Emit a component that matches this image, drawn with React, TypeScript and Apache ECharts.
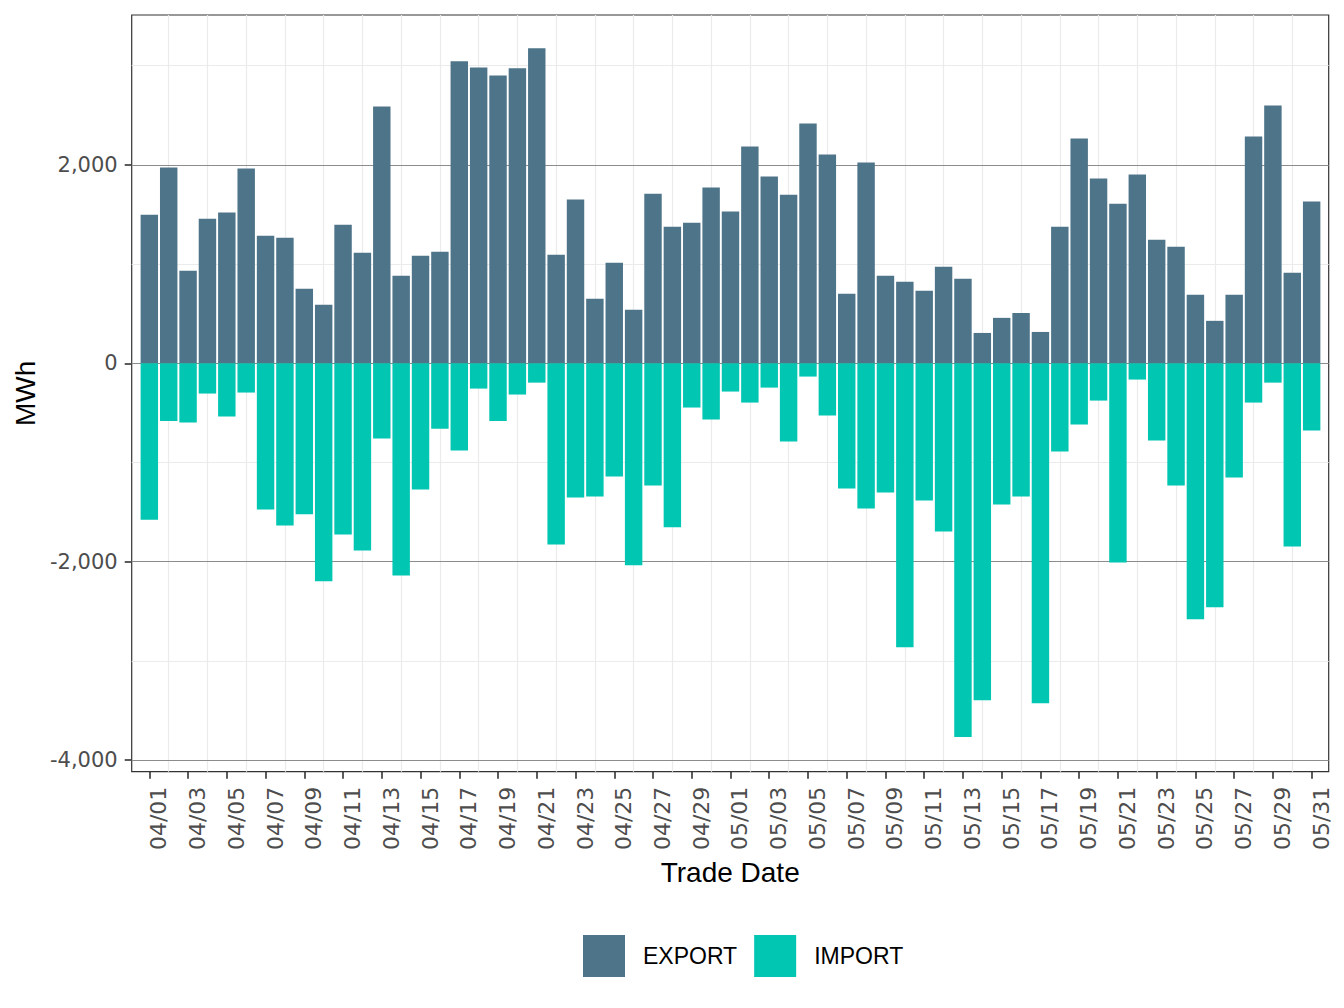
import React, { useEffect, useRef } from "react";
import * as echarts from "echarts";

const dates = [
  "04/01", "04/02", "04/03", "04/04", "04/05", "04/06", "04/07", "04/08", "04/09", "04/10",
  "04/11", "04/12", "04/13", "04/14", "04/15", "04/16", "04/17", "04/18", "04/19", "04/20",
  "04/21", "04/22", "04/23", "04/24", "04/25", "04/26", "04/27", "04/28", "04/29", "04/30",
  "05/01", "05/02", "05/03", "05/04", "05/05", "05/06", "05/07", "05/08", "05/09", "05/10",
  "05/11", "05/12", "05/13", "05/14", "05/15", "05/16", "05/17", "05/18", "05/19", "05/20",
  "05/21", "05/22", "05/23", "05/24", "05/25", "05/26", "05/27", "05/28", "05/29", "05/30",
  "05/31",
];

const exportValues = [
  1498, 1973, 933, 1458, 1519, 1963, 1286, 1266, 751, 589,
  1397, 1114, 2589, 882, 1084, 1125, 3044, 2983, 2902, 2973,
  3175, 1094, 1650, 650, 1013, 539, 1710, 1377, 1418, 1771,
  1529, 2185, 1882, 1700, 2418, 2104, 700, 2024, 882, 822,
  731, 973, 852, 306, 458, 508, 316, 1377, 2266, 1862,
  1609, 1902, 1246, 1175, 690, 428, 690, 2286, 2599, 912,
  1630,
];

const importValues = [
  -1577, -581, -597, -305, -537, -295, -1473, -1634, -1523, -2198,
  -1725, -1886, -758, -2138, -1272, -661, -879, -255, -581, -315,
  -195, -1826, -1352, -1342, -1141, -2037, -1232, -1654, -446, -567,
  -285, -396, -245, -789, -134, -527, -1262, -1463, -1302, -2862,
  -1383, -1695, -3768, -3396, -1423, -1342, -3426, -889, -617, -376,
  -2007, -164, -779, -1232, -2581, -2460, -1151, -396, -195, -1846,
  -678,
];

const yTickValues = [-4000, -2000, 0, 2000];
const yMinorValues = [-3000, -1000, 1000, 3000];
const seriesNames = ["EXPORT", "IMPORT"];
const seriesColors = ["#4E7489", "#00C6B2"];

const tickFont = "DejaVu Sans, Liberation Sans, Arial, sans-serif";
const titleFont = "Liberation Sans, Arial, Helvetica, sans-serif";

export default function App() {
  const ref = useRef<HTMLDivElement>(null);

  useEffect(() => {
    document.body.style.margin = "0";
    if (!ref.current) return;
    const chart = echarts.init(ref.current, undefined, { renderer: "svg" });

    const xTickIdx = dates.map((_, i) => i).filter((i) => i % 2 === 0);
    const xMinorIdx = dates.map((_, i) => i).filter((i) => i % 2 === 1);

    const minorStyle = { color: "#ebebeb", width: 1.2, type: "solid" as const };
    const majorStyle = { color: "#8c8c8c", width: 1, type: "solid" as const };

    const option = {
      animation: false,
      backgroundColor: "#ffffff",
      grid: {
        left: 131.7,
        top: 15,
        width: 1197,
        height: 756.7,
        show: true,
        borderColor: "#333333",
        borderWidth: 1.2,
        backgroundColor: "transparent",
        containLabel: false,
      },
      legend: {
        data: seriesNames,
        left: 583,
        top: 935,
        padding: 0,
        orient: "horizontal",
        icon: "rect",
        itemWidth: 42,
        itemHeight: 42,
        itemGap: 17,
        selectedMode: false,
        textStyle: {
          fontFamily: titleFont,
          fontSize: 23,
          color: "#000000",
          padding: [0, 0, 0, 13],
        },
      },
      xAxis: {
        type: "value",
        min: -0.91,
        max: 60.88,
        name: "Trade Date",
        nameLocation: "middle",
        nameGap: 86,
        nameTextStyle: { fontFamily: titleFont, fontSize: 28, color: "#000000" },
        axisLine: { show: false, onZero: false },
        splitLine: { show: false },
        axisTick: {
          show: true,
          customValues: xTickIdx,
          length: 7,
          lineStyle: { color: "#333333", width: 1.6 },
        },
        axisLabel: {
          show: true,
          customValues: xTickIdx,
          rotate: 90,
          margin: 15,
          fontFamily: tickFont,
          fontSize: 22,
          color: "#4d4d4d",
          verticalAlign: "top",
          lineHeight: 19,
          formatter: (v: number) => dates[Math.round(v)] ?? "",
        },
      },
      yAxis: {
        type: "value",
        min: -4117,
        max: 3511,
        name: "MWh",
        nameLocation: "middle",
        nameGap: 90,
        nameTextStyle: { fontFamily: titleFont, fontSize: 28, color: "#000000" },
        axisLine: { show: false, onZero: false },
        splitLine: { show: false },
        axisTick: {
          show: true,
          customValues: yTickValues,
          length: 7,
          lineStyle: { color: "#333333", width: 1.6 },
        },
        axisLabel: {
          show: true,
          customValues: yTickValues,
          margin: 14,
          fontFamily: tickFont,
          fontSize: 21,
          color: "#4d4d4d",
          formatter: (v: number) => v.toLocaleString("en-US"),
        },
      },
      series: [
        {
          name: seriesNames[0],
          type: "bar",
          stack: "total",
          barWidth: "90%",
          z: 2,
          itemStyle: { color: seriesColors[0] },
          emphasis: { disabled: true },
          data: exportValues.map((v, i) => [i, v]),
          markLine: {
            silent: true,
            z: 1,
            symbol: ["none", "none"],
            label: { show: false },
            emphasis: { disabled: true },
            animation: false,
            data: [
              ...yMinorValues.map((v) => ({ yAxis: v, lineStyle: minorStyle })),
              ...xMinorIdx.map((v) => ({ xAxis: v, lineStyle: minorStyle })),
              ...yTickValues.map((v) => ({ yAxis: v, lineStyle: majorStyle })),
            ],
          },
        },
        {
          name: seriesNames[1],
          type: "bar",
          stack: "total",
          barWidth: "90%",
          z: 2,
          itemStyle: { color: seriesColors[1] },
          emphasis: { disabled: true },
          data: importValues.map((v, i) => [i, v]),
        },
      ],
    };

    chart.setOption(option as any);
    return () => {
      chart.dispose();
    };
  }, []);

  return <div ref={ref} style={{ width: 1344, height: 1008 }} />;
}
